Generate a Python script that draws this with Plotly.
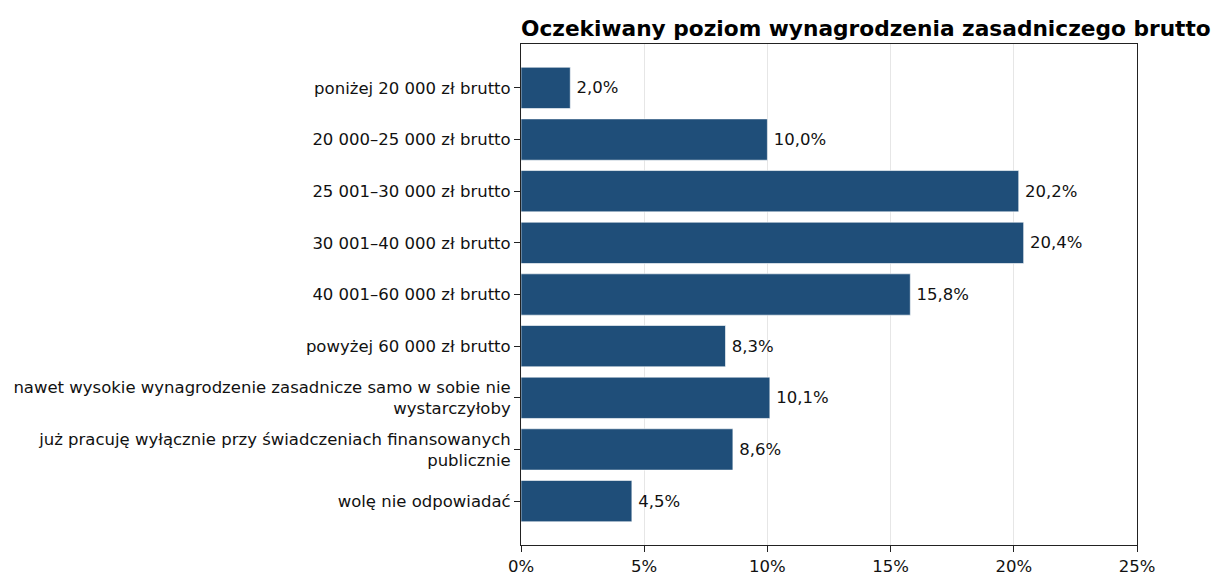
import plotly.graph_objects as go

categories = [
    "poniżej 20 000 zł brutto",
    "20 000–25 000 zł brutto",
    "25 001–30 000 zł brutto",
    "30 001–40 000 zł brutto",
    "40 001–60 000 zł brutto",
    "powyżej 60 000 zł brutto",
    "nawet wysokie wynagrodzenie zasadnicze samo w sobie nie<br>wystarczyłoby",
    "już pracuję wyłącznie przy świadczeniach finansowanych<br>publicznie",
    "wolę nie odpowiadać",
]
values = [2.0, 10.0, 20.2, 20.4, 15.8, 8.3, 10.1, 8.6, 4.5]
x_ticks = [0, 5, 10, 15, 20, 25]
title = "Oczekiwany poziom wynagrodzenia zasadniczego brutto"

labels = ["\u2009" + f"{v:.1f}".replace(".", ",") + "%" for v in values]

FS = 16.5

fig = go.Figure(
    go.Bar(
        y=list(range(len(categories))),
        x=values,
        orientation="h",
        width=0.8,
        marker=dict(color="#1f4e79", line=dict(color="rgba(255,255,255,0.6)", width=1)),
        text=labels,
        textposition="outside",
        textfont=dict(family="DejaVu Sans", size=FS, color="#111"),
        cliponaxis=False,
    )
)

fig.update_layout(
    width=1220,
    height=574,
    margin=dict(l=513, r=91, t=36, b=37, autoexpand=False),
    plot_bgcolor="white",
    paper_bgcolor="white",
    font=dict(family="DejaVu Sans", size=FS, color="#111"),
    showlegend=False,
    title=dict(
        text="<b>" + title + "</b>",
        x=513 / 1220,
        xanchor="left",
        y=1 - 20 / 574,
        yanchor="middle",
        font=dict(family="DejaVu Sans", size=21.7, color="#000"),
    ),
    bargap=0.2,
)

fig.update_xaxes(
    automargin=False,
    range=[0, 25],
    tickvals=x_ticks,
    ticktext=[f"{t}%" for t in x_ticks],
    showgrid=True,
    gridcolor="#e6e6e6",
    gridwidth=1,
    zeroline=False,
    showline=True,
    linecolor="#222",
    linewidth=1,
    mirror=True,
    ticks="outside",
    ticklen=6,
    tickcolor="#222",
    tickfont=dict(family="DejaVu Sans", size=FS, color="#111"),
)

fig.update_yaxes(
    automargin=False,
    range=[8.85, -0.85],
    tickvals=list(range(len(categories))),
    ticktext=categories,
    showgrid=False,
    zeroline=False,
    showline=True,
    linecolor="#222",
    linewidth=1,
    mirror=True,
    ticks="outside",
    ticklen=6,
    tickcolor="#222",
    tickfont=dict(family="DejaVu Sans", size=FS, color="#111"),
)

fig.write_html("out.html")
